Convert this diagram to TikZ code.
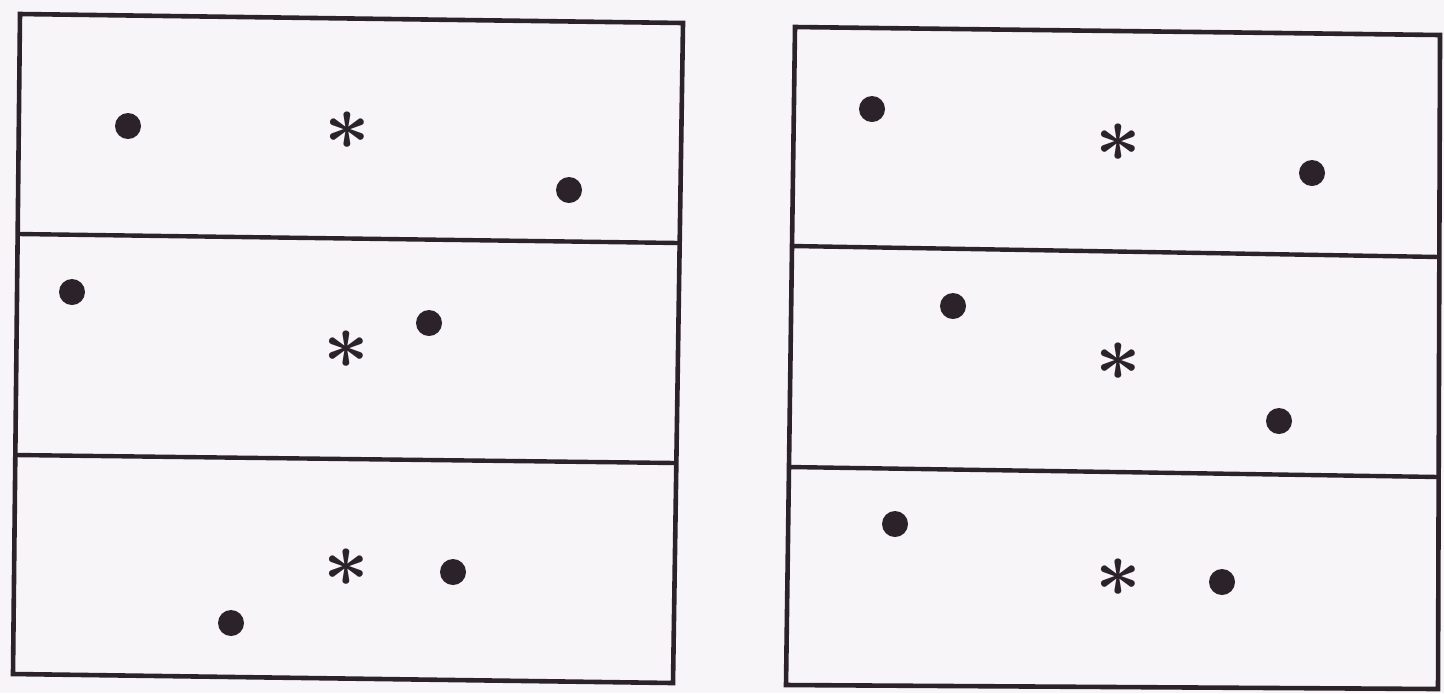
\documentclass[tikz,border=0pt]{standalone}
\usepackage{bm}
\usepackage{graphicx}
\definecolor{ink}{HTML}{2B2329}
\definecolor{paper}{HTML}{F7F5F7}
\newcommand{\bigstarmark}{\scalebox{1.6}{$\bm{\ast}$}}
\tikzset{
  frame/.style={draw=ink, line width=2.3pt, line join=miter},
  divider/.style={draw=ink, line width=2.2pt},
  dot/.style={circle, fill=ink, draw=none, minimum size=13pt, inner sep=0pt},
  starmark/.style={inner sep=0pt, text=ink, font=\fontsize{24.88}{25}\selectfont},
}
\begin{document}
\begin{tikzpicture}[x=0.5pt, y=-0.5pt]
\fill[paper] (0,0) rectangle (1444,693);
\useasboundingbox (0,0) rectangle (1444,693);
% left panel corners
\coordinate (LTL) at (20,14);
\coordinate (LTR) at (683,23);
\coordinate (LBR) at (673,683);
\coordinate (LBL) at (13,674);
\coordinate (LD1a) at (19,234);
\coordinate (LD1b) at (679,243);
\coordinate (LD2a) at (16,455);
\coordinate (LD2b) at (676,463);
\draw[frame] (LTL) -- (LTR) -- (LBR) -- (LBL) -- cycle;
\draw[divider] (LD1a) -- (LD1b);
\draw[divider] (LD2a) -- (LD2b);
% right panel corners
\coordinate (RTL) at (795,27);
\coordinate (RTR) at (1440,35);
\coordinate (RBR) at (1438,689);
\coordinate (RBL) at (786,685);
\coordinate (RD1a) at (792,246);
\coordinate (RD1b) at (1440,257);
\coordinate (RD2a) at (789,467);
\coordinate (RD2b) at (1439,477);
\draw[frame] (RTL) -- (RTR) -- (RBR) -- (RBL) -- cycle;
\draw[divider] (RD1a) -- (RD1b);
\draw[divider] (RD2a) -- (RD2b);
% left panel markers
\node[dot] (l1) at (128,126) {};
\node[dot] (l2) at (569,190) {};
\node[dot] (l3) at (72,292) {};
\node[dot] (l4) at (429,323) {};
\node[dot] (l5) at (453,572) {};
\node[dot] (l6) at (231,623) {};
\node[starmark] (ls1) at (347,131) {\bigstarmark};
\node[starmark] (ls2) at (346,350) {\bigstarmark};
\node[starmark] (ls3) at (346,568) {\bigstarmark};
% right panel markers
\node[dot] (r1) at (872,109) {};
\node[dot] (r2) at (1312,173) {};
\node[dot] (r3) at (953,306) {};
\node[dot] (r4) at (1279,421) {};
\node[dot] (r5) at (895,524) {};
\node[dot] (r6) at (1222,582) {};
\node[starmark] (rs1) at (1118,143) {\bigstarmark};
\node[starmark] (rs2) at (1118,362) {\bigstarmark};
\node[starmark] (rs3) at (1118,578) {\bigstarmark};
\end{tikzpicture}
\end{document}
